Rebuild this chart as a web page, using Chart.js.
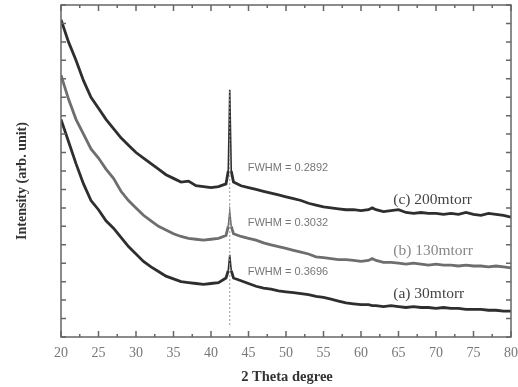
<!DOCTYPE html>
<html>
<head>
<meta charset="utf-8">
<script src="https://cdn.jsdelivr.net/npm/chart.js@4/dist/chart.umd.min.js"></script>
<style>
  html, body { margin: 0; padding: 0; background: #fff; }
  #wrap { width: 518px; height: 387px; }
</style>
</head>
<body>
<div id="wrap"><canvas id="xrd"></canvas></div>
<script>
// 2 theta (degree)
const twoTheta = [20,21,22,23,24,25,26,27,28,29,30,31,32,33,34,35,36,37,38,39,40,41,42,42.3,42.5,42.7,43,44,45,46,47,48,49,50,
  51,52,53,54,55,56,57,58,59,60,61,61.5,62,63,64,65,66,67,68,69,70,71,72,73,74,75,76,77,78,79,80];

// intensity, arb. unit (stacked offsets as in the figure)
const s200 = [17.2,16.0,15.0,13.9,13.0,12.4,11.8,11.3,10.8,10.4,10.0,9.7,9.4,9.1,8.8,8.6,8.4,8.45,8.2,8.15,8.1,8.15,8.3,9.0,13.4,9.0,8.4,8.2,8.1,8.0,7.9,7.8,7.7,7.6,
  7.5,7.4,7.25,7.15,7.05,7.0,6.95,6.9,6.9,6.85,6.9,7.0,6.9,6.8,6.85,6.9,6.75,6.7,6.75,6.7,6.7,6.65,6.7,6.65,6.75,6.65,6.6,6.7,6.65,6.6,6.5];
const s130 = [14.2,12.9,11.8,11.0,10.2,9.7,9.1,8.6,7.9,7.4,7.0,6.6,6.3,6.0,5.8,5.6,5.45,5.35,5.3,5.25,5.3,5.35,5.5,6.0,6.8,6.0,5.6,5.45,5.35,5.25,5.1,5.0,4.9,4.8,
  4.7,4.6,4.5,4.35,4.3,4.25,4.2,4.2,4.15,4.1,4.15,4.25,4.15,4.05,4.05,4.0,3.95,4.0,3.95,3.9,3.95,3.9,3.9,3.85,3.9,3.85,3.85,3.8,3.85,3.8,3.75];
const s30 = [11.8,10.6,9.4,8.3,7.4,6.9,6.3,5.9,5.4,4.9,4.5,4.1,3.8,3.55,3.3,3.15,3.0,2.95,2.9,2.85,2.9,2.95,3.2,3.6,4.45,3.6,3.2,3.05,2.9,2.75,2.65,2.6,2.5,2.45,
  2.4,2.35,2.3,2.2,2.15,2.05,1.95,1.85,1.8,1.75,1.75,1.7,1.7,1.65,1.7,1.65,1.6,1.65,1.6,1.6,1.55,1.6,1.55,1.55,1.5,1.5,1.5,1.45,1.45,1.4,1.4];

const peakPos = 42.5;
const peakLineY = [0.65, 13.4];

const seriesLabels = ["(c) 200mtorr", "(b) 130mtorr", "(a) 30mtorr"];
const fwhmLabels = ["FWHM = 0.2892", "FWHM = 0.3032", "FWHM = 0.3696"];
const labelY = [7.43, 4.66, 2.33];
const fwhmY = [9.16, 6.18, 3.52];
const labelX = 64.3;
const fwhmX = 44.9;

const pts = arr => twoTheta.map((t, i) => ({ x: t, y: arr[i] }));

// thinner stroke on the sharp peak, like the scan
const peakSeg = {
  borderWidth: ctx => (ctx.p0.parsed.x === peakPos || ctx.p1.parsed.x === peakPos) ? 1.6 : undefined
};

const frame = {
  id: "frame",
  afterDraw(chart) {
    const { ctx, chartArea: a } = chart;
    const xs = chart.scales.x, ys = chart.scales.y;
    ctx.save();
    ctx.strokeStyle = "#666";
    ctx.lineWidth = 1.5;
    ctx.strokeRect(a.left, a.top, a.right - a.left, a.bottom - a.top);
    ctx.beginPath();
    for (let v = 20; v <= 80; v += 2.5) {
      const px = xs.getPixelForValue(v);
      const len = v % 5 === 0 ? 6 : 3;
      ctx.moveTo(px, a.bottom); ctx.lineTo(px, a.bottom - len);
      ctx.moveTo(px, a.top); ctx.lineTo(px, a.top + len);
    }
    for (let v = 0; v <= 18; v++) {
      const py = ys.getPixelForValue(v);
      ctx.moveTo(a.left, py); ctx.lineTo(a.left + 5, py);
      ctx.moveTo(a.right, py); ctx.lineTo(a.right - 5, py);
    }
    ctx.stroke();

    // annotations
    ctx.textBaseline = "middle";
    ctx.textAlign = "left";
    const lblColors = ["#444", "#888", "#444"];
    ctx.font = "15.5px 'Liberation Serif'";
    seriesLabels.forEach((t, i) => {
      ctx.fillStyle = lblColors[i];
      ctx.fillText(t, xs.getPixelForValue(labelX), ys.getPixelForValue(labelY[i]));
    });
    ctx.font = "11px 'Liberation Sans'";
    ctx.fillStyle = "#777";
    fwhmLabels.forEach((t, i) => {
      ctx.fillText(t, xs.getPixelForValue(fwhmX), ys.getPixelForValue(fwhmY[i]));
    });

    // axis titles
    ctx.fillStyle = "#333";
    ctx.textAlign = "center";
    ctx.font = "bold 14.5px 'Liberation Serif'";
    ctx.fillText("2 Theta degree", 287, 377);
    ctx.save();
    ctx.translate(22, 181);
    ctx.rotate(-Math.PI / 2);
    ctx.font = "bold 14px 'Liberation Serif'";
    ctx.fillText("Intensity (arb. unit)", 0, 0);
    ctx.restore();
    ctx.restore();
  }
};

new Chart(document.getElementById("xrd"), {
  type: "line",
  data: {
    datasets: [
      {
        data: peakLineY.map(v => ({ x: peakPos, y: v })),
        borderColor: "#999",
        borderWidth: 1,
        borderDash: [2, 2],
        pointRadius: 0
      },
      { data: pts(s30), borderColor: "#2e2e2e", borderWidth: 2.8, pointRadius: 0, tension: 0, segment: peakSeg },
      { data: pts(s130), borderColor: "#6e6e6e", borderWidth: 2.8, pointRadius: 0, tension: 0, segment: peakSeg },
      { data: pts(s200), borderColor: "#2e2e2e", borderWidth: 2.8, pointRadius: 0, tension: 0, segment: peakSeg }
    ]
  },
  options: {
    responsive: true,
    maintainAspectRatio: false,
    animation: false,
    layout: { padding: { top: 5, right: 7, left: 0, bottom: 0 } },
    plugins: { legend: { display: false }, tooltip: { enabled: false } },
    scales: {
      x: {
        type: "linear",
        min: 20,
        max: 80,
        grid: { display: false, drawTicks: false },
        border: { display: false },
        ticks: {
          stepSize: 5,
          autoSkip: false,
          maxRotation: 0,
          padding: 8,
          color: "#777",
          font: { family: "'Liberation Serif'", size: 14 }
        },
        afterFit: s => { s.height = 50; s.paddingLeft = 0; s.paddingRight = 0; }
      },
      y: {
        min: 0,
        max: 18,
        grid: { display: false, drawTicks: false },
        border: { display: false },
        ticks: { display: false },
        afterFit: s => { s.width = 61; }
      }
    }
  },
  plugins: [frame]
});
</script>
</body>
</html>
